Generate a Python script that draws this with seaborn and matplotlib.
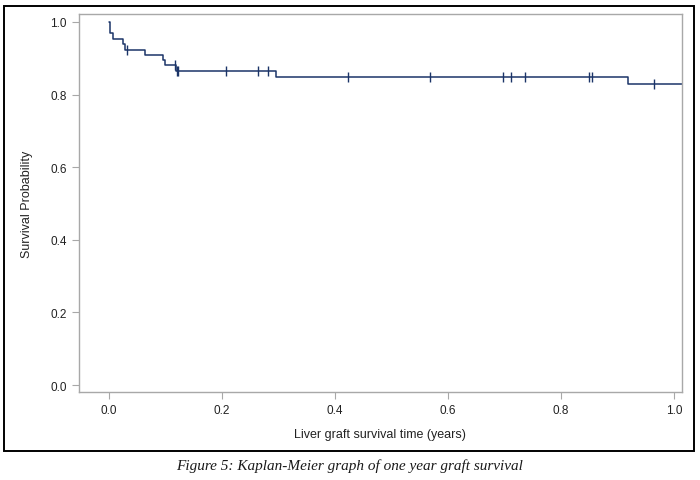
import pandas as pd
import matplotlib.pyplot as plt
import seaborn as sns
from matplotlib.patches import Rectangle

# KM step curve (time in years, survival)
step_times = [0.0, 0.001, 0.002, 0.0077, 0.025, 0.029, 0.064, 0.095, 0.100, 0.118, 0.296, 0.919, 1.02]
step_surv = [1.0, 0.985, 0.969, 0.952, 0.938, 0.922, 0.908, 0.894, 0.881, 0.865, 0.848, 0.829, 0.829]

# censored observations (tick marks)
cens_times = [0.032, 0.116, 0.121, 0.123, 0.207, 0.263, 0.282, 0.424, 0.568,
              0.697, 0.711, 0.736, 0.850, 0.855, 0.965]
cens_surv = [0.922, 0.881, 0.865, 0.865, 0.865, 0.865, 0.865, 0.848, 0.848,
             0.848, 0.848, 0.848, 0.848, 0.848, 0.829]

x_ticks = [0.0, 0.2, 0.4, 0.6, 0.8, 1.0]
y_ticks = [0.0, 0.2, 0.4, 0.6, 0.8, 1.0]

curve = pd.DataFrame({"time": step_times, "surv": step_surv})
cens = pd.DataFrame({"time": cens_times, "surv": cens_surv})

sns.set_style("white")
plt.rcParams["font.family"] = ["Liberation Sans", "DejaVu Sans"]

line_col = "#1b3468"
grey = "#a8a8a8"

fig = plt.figure(figsize=(7, 4.81), dpi=100)
ax = fig.add_axes([0.1129, 0.183, 0.8611, 0.786])

sns.lineplot(data=curve, x="time", y="surv", ax=ax, color=line_col,
             linewidth=1.1, drawstyle="steps-post", estimator=None)
sns.scatterplot(data=cens, x="time", y="surv", ax=ax, marker="|", s=45,
                color=line_col, linewidth=1.0, zorder=3)

ax.set_xlim(-0.053, 1.014)
ax.set_ylim(-0.019, 1.022)
ax.set_xticks(x_ticks)
ax.set_yticks(y_ticks)
ax.set_xticklabels([f"{v:.1f}" for v in x_ticks])
ax.set_yticklabels([f"{v:.1f}" for v in y_ticks])
ax.tick_params(axis="both", direction="out", length=5, width=0.8, color=grey,
               labelsize=8.5, labelcolor="#222222", pad=4, left=True, bottom=True)
for sp in ax.spines.values():
    sp.set_color(grey)
    sp.set_linewidth(1.0)

ax.set_xlabel("Liver graft survival time (years)", fontsize=9, color="#222222", labelpad=8)
ax.set_ylabel("Survival Probability", fontsize=9, color="#222222", labelpad=12)

# black frame round the graph and the caption below it
fig.patches.append(Rectangle((0.0057, 0.0603), 0.9853, 0.9251, transform=fig.transFigure,
                             fill=False, edgecolor="black", linewidth=1.4))
fig.text(0.5, 0.030, "Figure 5: Kaplan-Meier graph of one year graft survival",
         ha="center", va="center", fontsize=11, style="italic",
         family=["Liberation Serif", "DejaVu Serif"], color="#1a1a1a")

fig.savefig("out.png", dpi=100)
